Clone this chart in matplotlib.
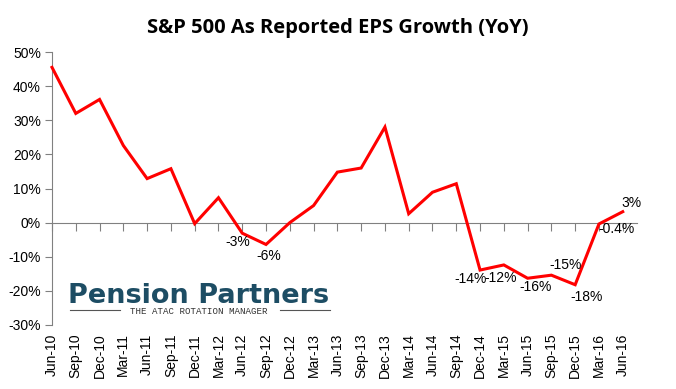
import matplotlib
matplotlib.use("Agg")
import matplotlib.pyplot as plt
from matplotlib.lines import Line2D

quarters = ["Jun-10", "Sep-10", "Dec-10", "Mar-11", "Jun-11", "Sep-11", "Dec-11",
            "Mar-12", "Jun-12", "Sep-12", "Dec-12", "Mar-13", "Jun-13", "Sep-13",
            "Dec-13", "Mar-14", "Jun-14", "Sep-14", "Dec-14", "Mar-15", "Jun-15",
            "Sep-15", "Dec-15", "Mar-16", "Jun-16"]
eps_growth = [45.5, 32.0, 36.1, 22.6, 12.9, 15.8, -0.3, 7.3, -3.1, -6.4, 0.0, 5.0,
              14.8, 16.0, 28.0, 2.6, 8.9, 11.4, -13.9, -12.4, -16.3, -15.4, -18.2,
              -0.4, 3.2]
y_ticks = [-30, -20, -10, 0, 10, 20, 30, 40, 50]

# labelled points: index, text, offset in pixels
point_labels = [(8, "-3%", (-4, -9)), (9, "-6%", (3, -12)), (18, "-14%", (-9, -9)),
                (19, "-12%", (-3, -13)), (20, "-16%", (8, -9)), (21, "-15%", (14, 10)),
                (22, "-18%", (11, -12)), (23, "-0.4%", (18, -5)), (24, "3%", (9, 9))]

plt.rcParams['font.family'] = ['Liberation Sans', 'DejaVu Sans']

fig = plt.figure(figsize=(6.76, 3.89), dpi=100)
ax = fig.add_axes([52 / 676, 64 / 389, 585 / 676, 273 / 389])

x = list(range(len(quarters)))
ax.plot(x, eps_growth, color="#ff0000", lw=2.2, solid_joinstyle="miter",
        clip_on=False, zorder=3)

for i, txt, off in point_labels:
    ax.annotate(txt, (i, eps_growth[i]), xytext=off, textcoords="offset pixels",
                ha="center", va="center", fontsize=10, color="black", zorder=4)

ax.set_xlim(0, 24.6)
ax.set_ylim(-30, 50)
ax.set_yticks(y_ticks)
ax.set_yticklabels([f"{v}%" for v in y_ticks], fontsize=10)

gray = "#808080"
for s in ["top", "right"]:
    ax.spines[s].set_visible(False)
ax.spines["left"].set_color(gray)
ax.spines["bottom"].set_color(gray)
ax.spines["bottom"].set_position(("data", 0))
ax.tick_params(axis="y", direction="out", length=5, color=gray, pad=3)
ax.set_xticks(x)
ax.tick_params(axis="x", direction="out", length=6, color=gray, labelbottom=False)

sec = ax.secondary_xaxis(0.0)
sec.set_xticks(x)
sec.set_xticklabels(quarters, rotation=90, fontsize=10)
sec.tick_params(length=0, pad=6)
sec.spines["bottom"].set_visible(False)

fig.text(0.5, 1 - 28 / 389, "S&P 500 As Reported EPS Growth (YoY)", ha="center",
         va="center", fontsize=14.5, fontweight="bold", family="Open Sans")

# logo watermark
fig.text(68 / 676, 1 - 303 / 389, "Pension Partners", ha="left", va="baseline",
         fontsize=19.5, fontweight="bold", color="#1d4d64", family="DejaVu Sans")
fig.text(199 / 676, 1 - 311 / 389, "THE ATAC ROTATION MANAGER", ha="center",
         va="center", fontsize=6.6, color="#333333", family="Liberation Mono")
for x0, x1 in [(70, 120), (280, 330)]:
    fig.add_artist(Line2D([x0 / 676, x1 / 676], [1 - 310 / 389] * 2,
                          color="#555555", lw=0.8))

fig.savefig("out.png", dpi=100)
